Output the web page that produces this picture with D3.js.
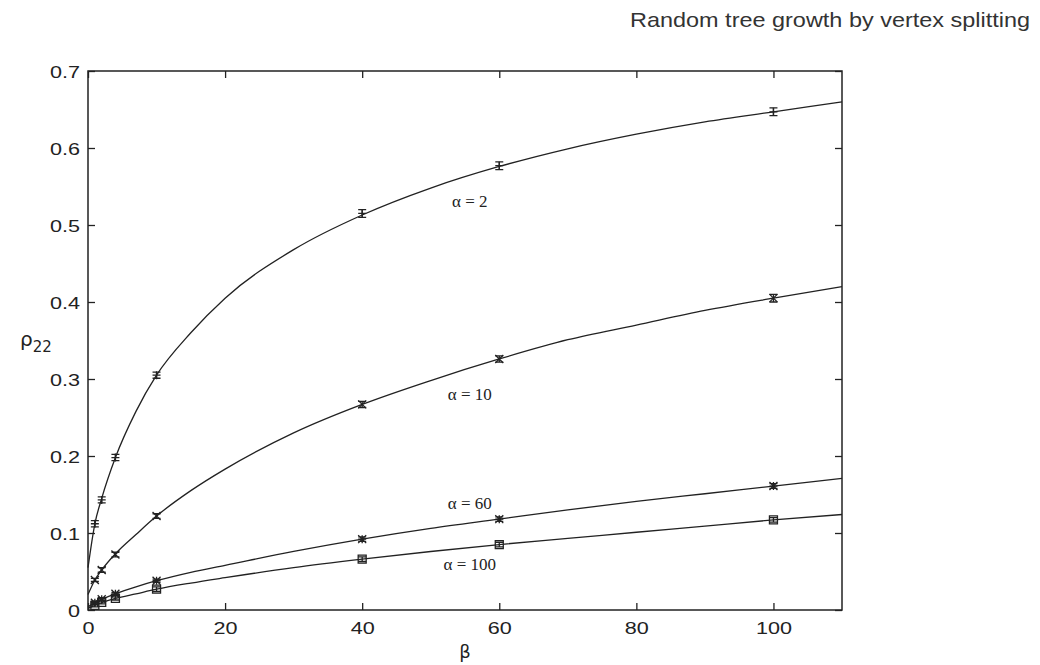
<!DOCTYPE html>
<html>
<head>
<meta charset="utf-8">
<script src="https://cdn.jsdelivr.net/npm/d3@7"></script>
<style>
  body { margin: 0; background: #fff; }
  svg { display: block; }
</style>
</head>
<body>
<div id="chart"></div>
<script>
// ==== measured points (beta, rho22, error) ====
const betaPts = [1, 2, 4, 10, 40, 60, 100];
const rhoA2 = [0.112, 0.143, 0.198, 0.305, 0.515, 0.577, 0.647];
const errA2 = [0.004, 0.004, 0.004, 0.004, 0.005, 0.005, 0.005];
const rhoA10 = [0.039, 0.052, 0.072, 0.122, 0.267, 0.326, 0.405];
const errA10 = [0.002, 0.003, 0.003, 0.003, 0.004, 0.004, 0.005];
const rhoA60 = [0.0095, 0.014, 0.021, 0.038, 0.092, 0.118, 0.161];
const errA60 = [0.002, 0.002, 0.002, 0.002, 0.003, 0.003, 0.003];
const rhoA100 = [0.006, 0.0100, 0.015, 0.027, 0.066, 0.085, 0.117];
const errA100 = [0.002, 0.002, 0.002, 0.003, 0.003, 0.003, 0.003];

// ==== theory curves ====
const betaFit = [0, 1, 2, 4, 7, 10, 15, 20, 30, 40, 50, 60, 70, 80, 90, 100, 110];
const fitA2 = [0.055, 0.112, 0.145, 0.198, 0.258, 0.305, 0.36, 0.405, 0.468, 0.513, 0.548, 0.576, 0.599, 0.618, 0.634, 0.647, 0.66];
const fitA10 = [0.02, 0.039, 0.052, 0.073, 0.098, 0.122, 0.155, 0.183, 0.23, 0.267, 0.298, 0.326, 0.351, 0.37, 0.389, 0.405, 0.42];
const fitA60 = [0.004, 0.0095, 0.014, 0.021, 0.03, 0.038, 0.049, 0.058, 0.076, 0.092, 0.106, 0.118, 0.13, 0.141, 0.151, 0.161, 0.171];
const fitA100 = [0.002, 0.006, 0.0095, 0.015, 0.021, 0.027, 0.035, 0.042, 0.055, 0.066, 0.076, 0.085, 0.093, 0.101, 0.109, 0.117, 0.124];

const xTicks = [0, 20, 40, 60, 80, 100];
const yTicks = [0, 0.1, 0.2, 0.3, 0.4, 0.5, 0.6, 0.7];
const yTickLabels = ['0', '0.1', '0.2', '0.3', '0.4', '0.5', '0.6', '0.7'];

const curveLabels = [
	{ text: 'α = 2', beta: 55.7, rho: 0.523 },
	{ text: 'α = 10', beta: 55.7, rho: 0.273 },
	{ text: 'α = 60', beta: 55.7, rho: 0.131 },
	{ text: 'α = 100', beta: 55.7, rho: 0.052 },
];

const width = 1040;
const height = 665;
const margin = { left: 88, right: 198, top: 71, bottom: 55 };
const stretch = 1.27; // the picture's text is wider than it is tall

const svg = d3
	.select('#chart')
	.append('svg')
	.attr('width', width)
	.attr('height', height);

const x = d3.scaleLinear().domain([0, 110]).range([margin.left, width - margin.right]);
const y = d3.scaleLinear().domain([0, 0.7]).range([height - margin.bottom, margin.top]);

const ink = '#222';

// frame
svg.append('rect')
	.attr('x', x(0))
	.attr('y', y(0.7))
	.attr('width', x(110) - x(0))
	.attr('height', y(0) - y(0.7))
	.attr('fill', 'none')
	.attr('stroke', ink)
	.attr('stroke-width', 1.5);

const tick = 7;
const axisBottom = d3.axisBottom(x).tickValues(xTicks).tickSizeInner(-tick).tickSizeOuter(0).tickFormat(d3.format('d'));
const axisTop = d3.axisTop(x).tickValues(xTicks).tickSizeInner(-tick).tickSizeOuter(0).tickFormat('');
const axisLeft = d3.axisLeft(y).tickValues(yTicks).tickSizeInner(-tick).tickSizeOuter(0).tickFormat((d, i) => yTickLabels[i]);
const axisRight = d3.axisRight(y).tickValues(yTicks).tickSizeInner(-tick).tickSizeOuter(0).tickFormat('');

function styleAxis(g) {
	g.select('.domain').remove();
	g.selectAll('.tick line').attr('stroke', ink).attr('stroke-width', 1.3);
	g.selectAll('.tick text')
		.attr('fill', ink)
		.style('font-family', '"Liberation Sans", Arial, sans-serif')
		.style('font-size', '17px');
}

svg.append('g').attr('transform', `translate(0,${y(0)})`).call(axisBottom).call(styleAxis)
	.selectAll('.tick text')
	.attr('y', 12)
	.attr('dy', '0.71em')
	.attr('transform', `scale(${stretch},1)`);
svg.append('g').attr('transform', `translate(0,${y(0.7)})`).call(axisTop).call(styleAxis);
svg.append('g').attr('transform', `translate(${x(0)},0)`).call(axisLeft).call(styleAxis)
	.selectAll('.tick text')
	.attr('x', -8 / stretch)
	.attr('dy', '0.36em')
	.attr('transform', `scale(${stretch},1)`);
svg.append('g').attr('transform', `translate(${x(110)},0)`).call(axisRight).call(styleAxis);

// curves
const line = d3
	.line()
	.x((d) => x(d[0]))
	.y((d) => y(d[1]))
	.curve(d3.curveMonotoneX);

[fitA2, fitA10, fitA60, fitA100].forEach((fit) => {
	svg.append('path')
		.datum(betaFit.map((b, i) => [b, fit[i]]))
		.attr('d', line)
		.attr('fill', 'none')
		.attr('stroke', ink)
		.attr('stroke-width', 1.3);
});

// markers with error bars
const series = [
	{ rho: rhoA2, err: errA2, shape: 'plus' },
	{ rho: rhoA10, err: errA10, shape: 'cross' },
	{ rho: rhoA60, err: errA60, shape: 'star' },
	{ rho: rhoA100, err: errA100, shape: 'square' },
];

const cap = 4;
const m = 4;
function markerPath(shape) {
	switch (shape) {
		case 'plus':
			return `M${-m},0H${m}M0,${-m}V${m}`;
		case 'cross':
			return `M${-m},${-m}L${m},${m}M${-m},${m}L${m},${-m}`;
		case 'star':
			return `M${-m},0H${m}M0,${-m}V${m}M${-m},${-m}L${m},${m}M${-m},${m}L${m},${-m}`;
		default:
			return `M${-m},${-m}H${m}V${m}H${-m}Z`;
	}
}

series.forEach((s) => {
	const pts = svg
		.append('g')
		.selectAll('g')
		.data(betaPts.map((b, i) => ({ b, r: s.rho[i], e: s.err[i] })))
		.join('g')
		.attr('transform', (d) => `translate(${x(d.b)},0)`);

	pts.append('path')
		.attr('d', (d) => {
			const y0 = y(d.r - d.e);
			const y1 = y(d.r + d.e);
			return `M0,${y0}V${y1}M${-cap},${y0}H${cap}M${-cap},${y1}H${cap}`;
		})
		.attr('fill', 'none')
		.attr('stroke', ink)
		.attr('stroke-width', 1.3);

	pts.append('path')
		.attr('transform', (d) => `translate(0,${y(d.r)})`)
		.attr('d', markerPath(s.shape))
		.attr('fill', 'none')
		.attr('stroke', ink)
		.attr('stroke-width', 1.3);
});

// curve labels
svg.append('g')
	.selectAll('text')
	.data(curveLabels)
	.join('text')
	.attr('x', (d) => x(d.beta))
	.attr('y', (d) => y(d.rho))
	.attr('text-anchor', 'middle')
	.attr('fill', ink)
	.style('font-family', '"Liberation Serif", "Times New Roman", serif')
	.style('font-size', '17px')
	.text((d) => d.text);

// axis titles
svg.append('text')
	.attr('x', x(55))
	.attr('y', 658)
	.attr('text-anchor', 'middle')
	.attr('fill', ink)
	.style('font-family', '"DejaVu Sans", sans-serif')
	.style('font-size', '18px')
	.text('β');

const yl = svg.append('text')
	.attr('x', 20)
	.attr('y', 346)
	.attr('fill', ink)
	.style('font-family', '"DejaVu Sans", sans-serif')
	.style('font-size', '20px');
yl.append('tspan').text('ρ');
yl.append('tspan').attr('dy', 6).style('font-size', '15px').text('22');

// header
svg.append('text')
	.attr('x', 1030)
	.attr('y', 27)
	.attr('text-anchor', 'end')
	.attr('fill', '#333')
	.attr('textLength', 400)
	.attr('lengthAdjust', 'spacingAndGlyphs')
	.style('font-family', '"Liberation Sans", Arial, sans-serif')
	.style('font-size', '21px')
	.text('Random tree growth by vertex splitting');
</script>
</body>
</html>
